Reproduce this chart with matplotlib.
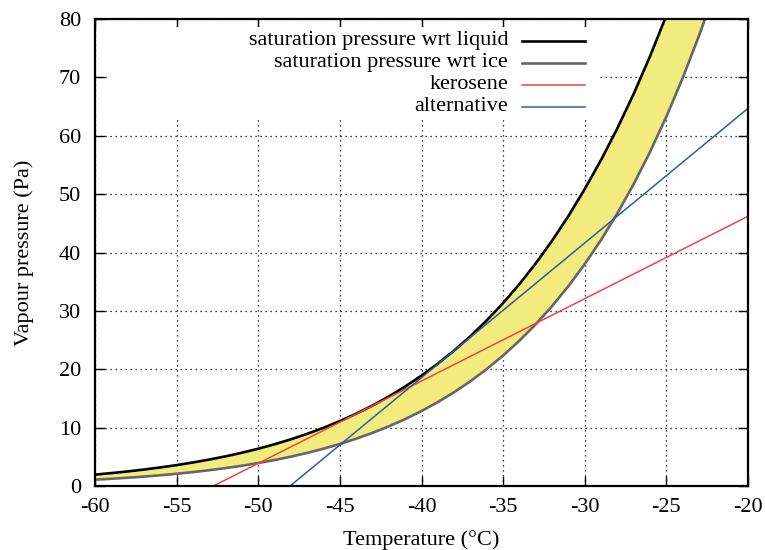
import matplotlib
matplotlib.use("Agg")
import matplotlib.pyplot as plt
from matplotlib.patches import Rectangle

# Temperature (°C)
temps = [-60, -59, -58, -57, -56, -55, -54, -53, -52, -51,
         -50, -49, -48, -47, -46, -45, -44, -43, -42, -41,
         -40, -39, -38, -37, -36, -35, -34, -33, -32, -31,
         -30, -29, -28, -27, -26, -25, -24, -23, -22, -21, -20]

# Saturation vapour pressure over liquid water (Pa)
p_liquid = [1.95, 2.21, 2.49, 2.82, 3.18, 3.58, 4.03, 4.53, 5.08, 5.70,
            6.39, 7.15, 8.00, 8.94, 9.97, 11.12, 12.39, 13.79, 15.34, 17.04,
            18.91, 20.96, 23.20, 25.67, 28.38, 31.34, 34.59, 38.14, 42.02, 46.25,
            50.88, 55.86, 61.29, 67.19, 73.62, 80.61, 88.18, 96.40, 105.3, 115.0, 125.4]

# Saturation vapour pressure over ice (Pa)
p_ice = [1.08, 1.236, 1.412, 1.612, 1.838, 2.093, 2.380, 2.703, 3.067, 3.476,
         3.935, 4.450, 5.026, 5.672, 6.394, 7.202, 8.100, 9.104, 10.22, 11.46,
         12.84, 14.37, 16.07, 17.95, 20.04, 22.35, 24.90, 27.71, 30.82, 34.24,
         38.01, 42.16, 46.72, 51.73, 57.23, 63.27, 69.89, 77.14, 85.06, 93.73, 103.2]

# Mixing lines (endpoints)
kero_T = [-52.75, -20.0]
kero_p = [0.0, 46.2]
alt_T = [-48.05, -20.0]
alt_p = [0.0, 64.7]

labels = ["saturation pressure wrt liquid", "saturation pressure wrt ice",
          "kerosene", "alternative"]
colors = ["#000000", "#666666", "#f04545", "#2a5cb0"]
widths = [1.9, 1.9, 1.1, 1.1]

xticks = [-60, -55, -50, -45, -40, -35, -30, -25, -20]
yticks = [0, 10, 20, 30, 40, 50, 60, 70, 80]

plt.rcParams['font.family'] = ['Liberation Serif', 'DejaVu Serif']
FS = 16

fig = plt.figure(figsize=(7.65, 5.5), dpi=100)
ax = fig.add_axes([95/765, 1 - 486/550, 653/765, 467/550])

ax.fill_between(temps, p_ice, p_liquid, color="#f2eb7d", lw=0, zorder=2)
ax.plot(temps, p_liquid, color=colors[0], lw=widths[0], zorder=3)
ax.plot(temps, p_ice, color=colors[1], lw=widths[1], zorder=3)
ax.plot(kero_T, kero_p, color=colors[2], lw=widths[2], zorder=3)
ax.plot(alt_T, alt_p, color=colors[3], lw=widths[3], zorder=3)

ax.set_xlim(-60, -20)
ax.set_ylim(0, 80)
ax.set_xticks(xticks)
ax.set_yticks(yticks)
ax.set_xticklabels([str(v) for v in xticks])
ax.set_yticklabels([str(v) for v in yticks])
ax.tick_params(direction='in', length=7, width=1.0, top=True, right=True,
               labelsize=FS, color='black')
ax.tick_params(axis='x', pad=9)
ax.tick_params(axis='y', pad=10)
ax.grid(True, color='black', linestyle=(0, (1, 3)), lw=0.9)
for s in ax.spines.values():
    s.set_linewidth(1.6)
    s.set_zorder(6)

ax.set_xlabel("Temperature (°C)", fontsize=FS, labelpad=9)
ax.set_ylabel("Vapour pressure (Pa)", fontsize=FS, labelpad=18)

# Legend (gnuplot-style: right-aligned labels, sample lines to the right)
box = Rectangle((0.02, 0.788), 0.75, 0.195, transform=ax.transAxes,
                facecolor='white', edgecolor='none', zorder=4)
ax.add_patch(box)
rows_y = [0.9533, 0.9064, 0.8597, 0.8116]
for lab, c, w, yy in zip(labels, colors, widths, rows_y):
    ax.text((508 - 95) / 653, yy, lab, transform=ax.transAxes, ha='right',
            va='center', fontsize=FS, zorder=5)
    ax.plot([(522 - 95) / 653, (585 - 95) / 653], [yy, yy], color=c, lw=w,
            transform=ax.transAxes, zorder=5, clip_on=False)

fig.savefig("out.png", dpi=100)
